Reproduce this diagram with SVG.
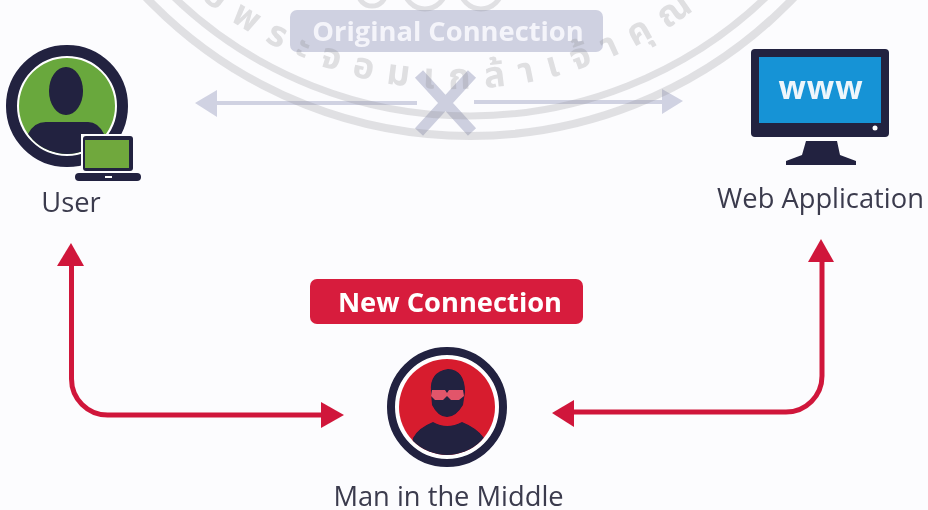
<svg xmlns="http://www.w3.org/2000/svg" width="928" height="510" viewBox="0 0 928 510">
<style>
.lbl{font-family:"Open Sans","Liberation Sans",sans-serif;font-size:27.300px;fill:#3b3b4d;text-anchor:middle}
.tag{font-family:"Open Sans","Liberation Sans",sans-serif;font-weight:700;font-size:27.300px;fill:#fff;text-anchor:middle}
.dark{fill:#20203f}
.wm{fill:none;stroke:#8a8a90;stroke-opacity:.24}
.wmt{font-family:"Noto Sans Thai","Noto Sans",sans-serif;font-size:36px;font-weight:700;fill:#8a8a90;fill-opacity:.26;letter-spacing:14px}
.red{fill:none;stroke:#d0183a;stroke-width:5}
.redh{fill:#d0183a}
.grey{fill:none;stroke:#d0d2e2;stroke-width:4}
.greyh{fill:#d0d2e2}
</style>
<defs>
<clipPath id="cu"><circle cx="67" cy="106" r="48"/></clipPath>
<clipPath id="cm"><circle cx="447" cy="407" r="48"/></clipPath>
<path id="wmp" d="M 54 -312 A 401 401 0 0 0 856 -312"/>
<filter id="soft" filterUnits="userSpaceOnUse" x="0" y="0" width="928" height="510"><feGaussianBlur stdDeviation="0.5"/></filter>
</defs>
<rect width="928" height="510" fill="#fcfcfe"/>
<g filter="url(#soft)">
<g id="connectors">
<g id="original-connection">
<path class="grey" d="M417 103H215"/><path class="greyh" d="M195 103L217 90V117Z"/>
<path class="grey" d="M474 102H664"/><path class="greyh" d="M683 101L662 89V114Z"/>
<path d="M419 74L472 132M472 74L419 132" fill="none" stroke="#cdcfdf" stroke-width="11"/>
</g>
<g id="new-connection">
<path class="red" d="M71.500 263V379A36 36 0 0 0 107.500 415H323"/><path class="redh" d="M71 243L84 266H57Z"/><path class="redh" d="M344 415L321 402V428Z"/>
<path class="red" d="M822 260V376A36 36 0 0 1 786 412H572"/><path class="redh" d="M821 239L834 262H808Z"/><path class="redh" d="M552 413L574 400V427Z"/>
</g>
</g>
<g id="original-label">
<rect x="290" y="10" width="313" height="42" rx="7" fill="#cfd1e1"/>
<text class="tag" x="448" y="41" style="fill:#f4f4fa">Original Connection</text>
</g>
<g id="new-label">
<rect x="310" y="279" width="273" height="45" rx="7" fill="#d71f3c"/>
<text class="tag" x="450" y="312">New Connection</text>
</g>
<g id="watermark">
<circle class="wm" cx="470" cy="-312" r="448" stroke-width="8"/>
<circle class="wm" cx="470" cy="-312" r="428" stroke-width="7"/>
<circle class="wm" cx="425" cy="-12" r="21" stroke-width="5"/>
<circle class="wm" cx="481" cy="-12" r="21" stroke-width="5"/>
<circle class="wm" cx="372" cy="-8" r="14" stroke-width="5"/>
<text class="wmt"><textPath href="#wmp" startOffset="695" text-anchor="middle">ยีพระจอมเกล้าเจ้าคุณทหาร</textPath></text>
</g>
<g id="user">
<circle cx="67" cy="106" r="55.500" fill="#fff" stroke="#20203f" stroke-width="11"/>
<circle cx="67" cy="106" r="48" fill="#69a83c"/>
<g clip-path="url(#cu)">
<ellipse cx="66" cy="91" rx="17" ry="24" class="dark"/>
<path class="dark" d="M28 158V134Q34 122 46 122H88Q98 122 104 134V158Z"/>
</g>
<rect x="81" y="134" width="54" height="38" fill="#fcfcfe"/>
<rect x="83" y="136" width="50" height="35" rx="3" class="dark"/>
<rect x="85" y="140" width="44" height="28" fill="#6fa83c"/>
<rect x="75" y="173" width="66" height="8" rx="4" class="dark"/>
<rect x="105" y="176" width="7" height="2" fill="#fff"/>
<text class="lbl" x="71" y="212">User</text>
</g>
<g id="web-application">
<rect x="751" y="49" width="138" height="88" rx="4" class="dark"/>
<rect x="759" y="57" width="122" height="66" fill="#1593d6"/>
<circle cx="875" cy="128" r="2.500" fill="#fff"/>
<path class="dark" d="M806 141H837L840 155L856 161V165H786V161L802 155Z"/>
<text x="821" y="99" text-anchor="middle" style="font-family:'Open Sans','Liberation Sans',sans-serif;font-weight:700;font-size:32px;letter-spacing:1px;fill:#eef6fb">www</text>
<text class="lbl" x="820.500" y="208">Web Application</text>
</g>
<g id="man-in-the-middle">
<circle cx="447" cy="407" r="56" fill="#fff" stroke="#20203f" stroke-width="8"/>
<circle cx="447" cy="407" r="48" fill="#d71f2f"/>
<g clip-path="url(#cm)">
<path class="dark" d="M431 392Q429 372 448 369Q465 370 465 392L463 405Q456 417 447 417Q438 417 432 405Z"/>
<path class="dark" d="M410 460L413 438Q418 428 433 422Q447 430 462 422Q477 428 484 438V460Z"/>
</g>
<path d="M432 390H445L447 393L449 390H463L464 396L459 400H451L447 396L443 400H435L431 396Z" fill="#e2556a"/>
<text class="lbl" x="448.500" y="506">Man in the Middle</text>
</g>
</g>
</svg>
